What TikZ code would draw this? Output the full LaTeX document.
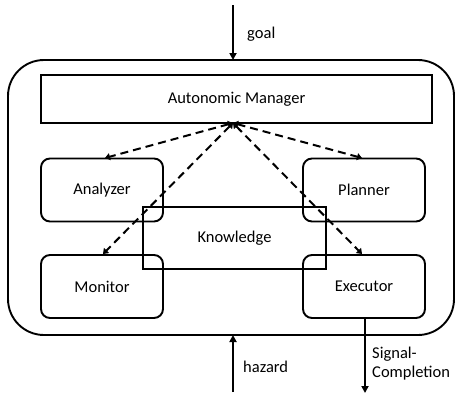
\documentclass[tikz,border=0pt]{standalone}
\usepackage{fontspec}
\setmainfont{Carlito}
\usetikzlibrary{arrows.meta}
\begin{document}
\begin{tikzpicture}[x=1pt,y=-1pt,
  font=\fontsize{16.5}{19}\selectfont,
  line width=1.8pt,
  box/.style={draw,line width=1.9pt,rounded corners=9pt,minimum width=122pt,minimum height=63pt,inner sep=0pt},
  sq/.style={draw,line width=1.9pt,inner sep=0pt},
  dashline/.style={dash pattern=on 8pt off 5pt,line width=2pt,{Triangle[width=7pt,length=5pt]}-{Triangle[width=7pt,length=5pt]}},
  arr/.style={-{Triangle[width=7pt,length=7pt]},line width=1.8pt}]
\useasboundingbox (0,0) rectangle (455,399);
\draw[line width=1.9pt,rounded corners=36pt] (8,60) rectangle (454,335);
\node[sq,minimum width=391pt,minimum height=48pt] (am) at (236.5,99) {Autonomic Manager};
\node[box] (an) at (102,190) {Analyzer};
\node[box] (pl) at (364,190) {Planner};
\node[box] (mo) at (102,286.5) {Monitor};
\node[box] (ex) at (364,286.5) {Executor};
\node[sq,minimum width=183pt,minimum height=62pt] (kn) at (234.5,238) {};
\node at (234.5,238) {Knowledge};
\coordinate (src) at (233,123);
\draw[dashline] (src) -- (105,158);
\draw[dashline] (src) -- (362,158);
\draw[dashline] (src) -- (103,254);
\draw[dashline] (src) -- (362,254);
\coordinate (gtop) at (233,5);
\coordinate (gbot) at (233,60);
\draw[arr] (gtop) -- (gbot);
\node[anchor=west] (goal) at (243,34) {goal};
\coordinate (hbot) at (233,392);
\coordinate (htop) at (233,335);
\draw[arr] (hbot) -- (htop);
\node[anchor=west] (hz) at (239,367) {hazard};
\coordinate (send) at (365,393);
\draw[arr] (ex.south -| send) -- (send);
\node[anchor=west,align=left] (sig) at (368,364) {Signal-\\Completion};
\end{tikzpicture}
\end{document}
